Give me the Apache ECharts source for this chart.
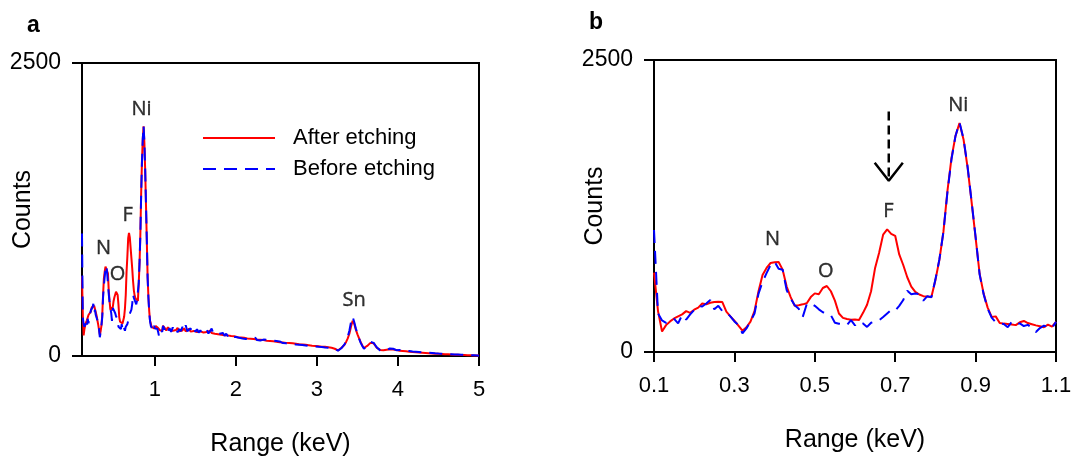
<!DOCTYPE html>
<html><head><meta charset="utf-8">
<script src="https://cdn.jsdelivr.net/npm/echarts@6/dist/echarts.min.js"></script>
<style>html,body{margin:0;padding:0;background:#fff}#c{width:1092px;height:458px}</style>
</head><body><div id="c"></div>
<script>
// ---- Data: EDS spectra (counts vs energy, keV) ----
const eLow = [
0.10,0.11,0.12,0.13,0.14,0.15,0.16,0.17,0.18,0.19,
0.20,0.21,0.22,0.23,0.24,0.25,0.26,0.27,0.28,0.29,
0.30,0.31,0.32,0.33,0.34,0.35,0.36,0.37,0.38,0.39,
0.40,0.41,0.42,0.43,0.44,0.45,0.46,0.47,0.48,0.49,
0.50,0.51,0.52,0.53,0.54,0.55,0.56,0.57,0.58,0.59,
0.60,0.61,0.62,0.63,0.64,0.65,0.66,0.67,0.68,0.69,
0.70,0.71,0.72,0.73,0.74,0.75,0.76,0.77,0.78,0.79,
0.80,0.81,0.82,0.83,0.84,0.85,0.86,0.87,0.88,0.89,
0.90,0.91,0.92,0.93,0.94,0.95,0.96,0.97,0.98,0.99,
1.00,1.01,1.02,1.03,1.04,1.05,1.06,1.07,1.08,1.09,
1.10];
const afterLow = [
680,350,175,230,262,287,305,322,350,335,
362,380,415,408,422,428,430,428,345,305,
268,225,182,212,260,350,520,660,720,762,
768,770,705,560,470,395,400,408,418,470,
502,495,548,565,520,440,330,292,282,276,
278,275,335,405,520,720,850,1005,1050,1012,
995,835,745,640,560,515,492,478,475,470,
615,790,1030,1380,1660,1850,1960,1820,1580,1285,
980,670,500,380,300,305,248,243,240,236,
230,255,266,248,238,228,220,212,235,218,
258];
const beforeLow = [
1045,330,270,250,262,284,245,318,278,322,
360,392,390,415,445,365,395,350,340,305,
262,232,160,202,262,330,500,600,675,745,
772,712,705,530,458,400,370,300,410,418,
395,365,340,330,315,250,242,238,230,272,
228,258,245,215,250,262,272,300,330,360,
355,395,445,525,495,500,495,440,478,468,
620,795,1030,1370,1650,1850,1965,1825,1590,1290,
985,665,495,370,295,255,245,240,212,258,
235,245,222,232,205,172,205,225,215,205,
258];
const eHigh = [
1.12,1.14,1.16,1.18,1.20,1.22,1.24,1.26,1.28,1.30,
1.32,1.34,1.36,1.38,1.40,1.42,1.44,1.46,1.48,1.50,
1.52,1.54,1.56,1.58,1.60,1.62,1.64,1.66,1.68,1.70,
1.72,1.74,1.76,1.78,1.80,1.82,1.84,1.86,1.88,1.90,
1.92,1.94,1.96,1.98,2.00,2.02,2.04,2.06,2.08,2.10,
2.12,2.14,2.16,2.18,2.20,2.22,2.24,2.26,2.28,2.30,
2.32,2.34,2.36,2.38,2.40,2.42,2.44,2.46,2.48,2.50,
2.52,2.54,2.56,2.58,2.60,2.62,2.64,2.66,2.68,2.70,
2.72,2.74,2.76,2.78,2.80,2.82,2.84,2.86,2.88,2.90,
2.92,2.94,2.96,2.98,3.00,3.02,3.04,3.06,3.08,3.10,
3.12,3.14,3.16,3.18,3.20,3.22,3.24,3.26,3.28,3.30,
3.32,3.34,3.36,3.38,3.40,3.42,3.44,3.46,3.48,3.50,
3.52,3.54,3.56,3.58,3.60,3.62,3.64,3.66,3.68,3.70,
3.72,3.74,3.76,3.78,3.80,3.82,3.84,3.86,3.88,3.90,
3.92,3.94,3.96,3.98,4.00,4.02,4.04,4.06,4.08,4.10,
4.12,4.14,4.16,4.18,4.20,4.22,4.24,4.26,4.28,4.30,
4.32,4.34,4.36,4.38,4.40,4.42,4.44,4.46,4.48,4.50,
4.52,4.54,4.56,4.58,4.60,4.62,4.64,4.66,4.68,4.70,
4.72,4.74,4.76,4.78,4.80,4.82,4.84,4.86,4.88,4.90,
4.92,4.94,4.96,4.98,5.00];
const afterHigh = [
240,218,245,226,238,215,232,221,240,212,
228,218,236,210,225,232,208,222,214,226,
205,218,210,222,200,212,204,198,215,196,
205,190,200,186,194,182,192,178,186,176,
183,170,178,168,172,160,170,158,166,155,
163,150,160,148,156,145,152,140,150,138,
146,136,143,130,140,128,136,125,132,122,
130,118,126,116,124,112,120,110,118,108,
114,104,112,100,108,98,104,95,102,92,
98,88,95,86,92,84,88,80,86,78,
84,74,80,70,74,62,55,48,58,68,
78,95,120,150,190,250,300,275,225,185,
150,118,90,68,72,86,98,112,120,108,
88,70,58,52,55,50,58,54,62,58,
66,56,60,52,50,44,50,42,46,40,
44,36,40,34,38,32,36,30,33,28,
32,26,29,24,27,22,25,20,23,19,
22,17,20,15,18,14,16,12,15,11,
13,10,12,9,11,8,9,7,8,6,
7,5,6,4,4];
const beforeHigh = [
225,250,210,238,205,244,215,235,202,230,
212,248,218,262,212,220,236,200,230,208,
228,200,220,196,215,205,225,192,210,235,
195,205,184,198,190,176,196,172,190,168,
186,174,164,175,162,172,155,168,150,162,
146,158,142,154,148,138,156,136,148,132,
142,140,128,138,124,136,122,132,118,128,
116,124,120,110,118,108,116,104,112,102,
110,98,106,96,110,94,100,90,98,86,
96,84,100,82,88,78,90,76,82,72,
80,70,78,66,72,60,52,45,56,66,
80,100,128,165,215,290,335,290,235,190,
148,112,86,62,70,90,104,120,126,112,
92,72,56,48,54,46,56,50,60,64,
58,62,54,50,46,52,44,48,40,43,
38,42,34,38,32,36,30,34,28,31,
26,30,24,27,22,26,20,23,19,21,
17,20,15,18,14,17,12,15,11,13,
10,12,9,11,8,10,7,8,6,7,
5,6,4,5,3];

const seriesNames = ['After etching', 'Before etching'];
const ticksA = [1, 2, 3, 4, 5];
const ticksB = [0.1, 0.3, 0.5, 0.7, 0.9, 1.1];

// peak annotations (label centres in data units)
const peakNamesA = ['N', 'O', 'F', 'Ni', 'Sn'];
const peakEA = [0.367, 0.54, 0.665, 0.835, 3.46];
const peakCA = [917, 695, 1203, 2103, 472];
const peakNamesB = ['N', 'O', 'F', 'Ni'];
const peakEB = [0.395, 0.527, 0.683, 0.857];
const peakCB = [967, 694, 1208, 2108];
const arrowShaft = [[0.684, 2060], [0.684, 1480]];
const arrowHead = [[0.649, 1620], [0.684, 1466], [0.719, 1620]];

// ---- Chart ----
const FONT = 'Liberation Sans';
const pairs = (xs, ys) => xs.map((x, i) => [x, ys[i]]);
const eAll = eLow.concat(eHigh);

function xAxisCfg(grid, min, max, ticks) {
  return {
    type: 'value', gridIndex: grid, min: min, max: max,
    axisLine: { show: true, onZero: false, lineStyle: { color: '#000', width: 2 } },
    axisTick: { show: true, customValues: ticks, length: 10, lineStyle: { color: '#000', width: 2 } },
    axisLabel: { customValues: ticks, fontSize: 22, color: '#000', fontFamily: FONT, margin: 23,
                 formatter: v => String(v) },
    splitLine: { show: false },
    name: 'Range (keV)', nameLocation: 'middle', nameGap: 76, nameMoveOverlap: false,
    nameTextStyle: { fontSize: 25, color: '#000', fontFamily: FONT }
  };
}
function yAxisCfg(grid) {
  return {
    type: 'value', gridIndex: grid, min: 0, max: 2500, interval: 2500,
    axisLine: { show: true, onZero: false, lineStyle: { color: '#000', width: 2 } },
    axisTick: { show: true, length: 10, lineStyle: { color: '#000', width: 2 } },
    axisLabel: { fontSize: 23, color: '#000', fontFamily: FONT, margin: 21, formatter: v => String(v) },
    splitLine: { show: false },
    name: 'Counts', nameLocation: 'middle', nameGap: 46, nameRotate: 90, nameMoveOverlap: false,
    nameTextStyle: { fontSize: 25, color: '#000', fontFamily: FONT }
  };
}
function lineSeries(name, grid, data, color, dashed) {
  return {
    type: 'line', name: name, xAxisIndex: grid, yAxisIndex: grid, data: data,
    symbol: 'none', showSymbol: false, smooth: false, silent: true,
    lineStyle: { color: color, width: 2, type: dashed ? [13, 8] : 'solid' },
    itemStyle: { color: color }
  };
}
function labelSeries(grid, names, es, cs) {
  return {
    type: 'scatter', xAxisIndex: grid, yAxisIndex: grid, symbolSize: 0, silent: true,
    data: names.map((n, i) => ({ name: n, value: [es[i], cs[i]] })),
    label: { show: true, position: 'inside', formatter: '{b}', fontSize: 20,
             fontFamily: 'Open Sans', color: '#000', textBorderColor: '#000', textBorderWidth: 0.4,
             verticalAlign: 'middle', align: 'center' }
  };
}

const chart = echarts.init(document.getElementById('c'));
chart.setOption({
  animation: false,
  backgroundColor: '#fff',
  grid: [
    { left: 82, top: 63, width: 397, height: 293, show: true, borderColor: '#000', borderWidth: 2,
      containLabel: false, outerBoundsMode: 'none' },
    { left: 654, top: 60, width: 402, height: 292, show: true, borderColor: '#000', borderWidth: 2,
      containLabel: false, outerBoundsMode: 'none' }
  ],
  xAxis: [xAxisCfg(0, 0.1, 5, ticksA), xAxisCfg(1, 0.1, 1.1, ticksB)],
  yAxis: [yAxisCfg(0), yAxisCfg(1)],
  legend: {
    data: seriesNames, orient: 'vertical', left: 202, top: 127, padding: 0,
    itemWidth: 72, itemHeight: 14, itemGap: 9, selectedMode: false,
    itemStyle: { opacity: 0 },
    textStyle: { fontSize: 22, color: '#000', fontFamily: FONT, padding: [0, 0, 0, 13] }
  },
  graphic: [
    { type: 'text', left: 27, top: 14, style: { text: 'a', font: 'bold 23px "Liberation Sans"', fill: '#000' } },
    { type: 'text', left: 589, top: 11, style: { text: 'b', font: 'bold 23px "Liberation Sans"', fill: '#000' } }
  ],
  series: [
    lineSeries(seriesNames[0], 0, pairs(eAll, afterLow.concat(afterHigh)), '#ff0000', false),
    lineSeries(seriesNames[1], 0, pairs(eAll, beforeLow.concat(beforeHigh)), '#0000ff', true),
    lineSeries(seriesNames[0], 1, pairs(eLow, afterLow), '#ff0000', false),
    lineSeries(seriesNames[1], 1, pairs(eLow, beforeLow), '#0000ff', true),
    labelSeries(0, peakNamesA, peakEA, peakCA),
    labelSeries(1, peakNamesB, peakEB, peakCB),
    { type: 'line', xAxisIndex: 1, yAxisIndex: 1, data: arrowShaft, symbol: 'none', silent: true,
      lineStyle: { color: '#000', width: 2.5, type: [9, 5] } },
    { type: 'line', xAxisIndex: 1, yAxisIndex: 1, data: arrowHead, symbol: 'none', silent: true,
      lineStyle: { color: '#000', width: 2.5 } }
  ]
});
</script></body></html>
